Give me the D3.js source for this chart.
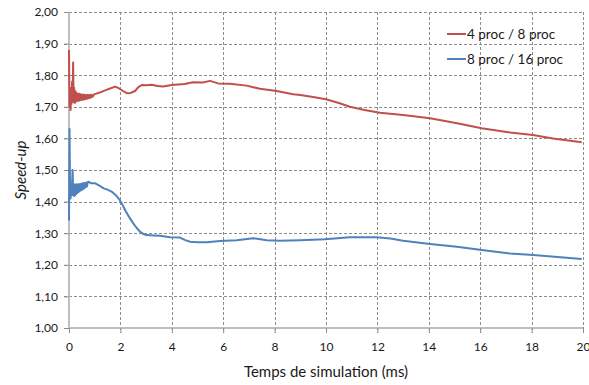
<!DOCTYPE html>
<html>
<head>
<meta charset="utf-8">
<script src="https://cdn.jsdelivr.net/npm/d3@7"></script>
<style>
  body { margin: 0; background: #fff; }
  svg text { font-family: Lato, "Open Sans", sans-serif; fill: #1a1a1a; }
</style>
</head>
<body>
<svg id="chart" width="589" height="385"></svg>
<script>
// values (time in ms, speed-up)
var seriesNames = ["4 proc / 8 proc", "8 proc / 16 proc"];
var seriesColors = ["#c0504d", "#4f81bd"];

var redTime = [0, 0.02, 0.04, 0.06, 0.08, 0.1, 0.12, 0.14, 0.16, 0.18, 0.2, 0.22, 0.24, 0.26, 0.28, 0.3,
  0.32, 0.34, 0.36, 0.38, 0.4, 0.43, 0.46, 0.49, 0.52, 0.55, 0.58, 0.61, 0.64, 0.67, 0.7, 0.73, 0.76,
  0.79, 0.82, 0.85, 0.88, 0.92, 0.96, 1.0, 1.2, 1.4, 1.6, 1.8, 1.95, 2.1, 2.25, 2.4, 2.57, 2.7, 2.83,
  3.0, 3.22, 3.45, 3.66, 4.0, 4.5, 4.82, 5.2, 5.49, 5.8, 6.26, 6.91, 7.43, 8.08, 8.72, 9.0, 9.5, 10.0,
  10.5, 10.93, 11.5, 12.1, 13.0, 14.05, 15.1, 16.06, 17.16, 18.05, 18.83, 19.95];
var redSpeedup = [1.88, 1.70, 1.76, 1.69, 1.75, 1.71, 1.78, 1.72, 1.84, 1.715, 1.76, 1.712, 1.75, 1.715, 1.745, 1.718,
  1.742, 1.72, 1.74, 1.719, 1.741, 1.72, 1.74, 1.722, 1.738, 1.722, 1.739, 1.724, 1.737, 1.725, 1.738, 1.726, 1.737,
  1.728, 1.738, 1.729, 1.738, 1.732, 1.738, 1.74, 1.745, 1.752, 1.758, 1.764, 1.758, 1.75, 1.743, 1.744, 1.75, 1.762, 1.769,
  1.768, 1.77, 1.766, 1.764, 1.769, 1.772, 1.778, 1.777, 1.782, 1.774, 1.773, 1.767, 1.757, 1.75, 1.74, 1.737, 1.731, 1.724,
  1.712, 1.70, 1.69, 1.681, 1.674, 1.664, 1.648, 1.632, 1.619, 1.611, 1.600, 1.588];

var blueTime = [0, 0.02, 0.04, 0.06, 0.08, 0.1, 0.12, 0.14, 0.16, 0.18, 0.2, 0.22, 0.24, 0.26, 0.28, 0.3,
  0.32, 0.34, 0.36, 0.38, 0.4, 0.43, 0.46, 0.49, 0.52, 0.55, 0.58, 0.61, 0.64, 0.67, 0.7, 0.73, 0.77,
  0.85, 1.02, 1.2, 1.35, 1.5, 1.67, 1.8, 1.93, 2.05, 2.19, 2.35, 2.5, 2.62, 2.76,
  2.9, 3.02, 3.3, 3.54, 3.93, 4.32, 4.5, 4.71, 5.0, 5.36, 5.88, 6.53, 7.17, 7.69, 8.21, 9.0, 9.96, 10.93,
  11.97, 12.5, 13.0, 14.05, 15.09, 16.06, 17.16, 18.07, 19.95];
var blueSpeedup = [1.34, 1.63, 1.45, 1.41, 1.44, 1.42, 1.46, 1.50, 1.42, 1.455, 1.418, 1.455, 1.42, 1.452, 1.424, 1.455,
  1.427, 1.453, 1.43, 1.455, 1.432, 1.456, 1.435, 1.457, 1.438, 1.458, 1.441, 1.459, 1.445, 1.46, 1.448, 1.462, 1.463,
  1.458, 1.458, 1.45, 1.442, 1.438, 1.431, 1.422, 1.41, 1.395, 1.372, 1.35, 1.331, 1.318, 1.305,
  1.297, 1.294, 1.293, 1.292, 1.287, 1.286, 1.279, 1.273, 1.271, 1.271, 1.275, 1.278, 1.284, 1.278, 1.276, 1.278, 1.281, 1.287,
  1.287, 1.283, 1.276, 1.266, 1.257, 1.247, 1.236, 1.231, 1.218];

var xTicks = [0, 2, 4, 6, 8, 10, 12, 14, 16, 18, 20];
var yTicks = [1.0, 1.1, 1.2, 1.3, 1.4, 1.5, 1.6, 1.7, 1.8, 1.9, 2.0];

var svg = d3.select("#chart");
var plotLeft = 69, plotRight = 583, plotTop = 12, plotBottom = 328;

var x = d3.scaleLinear().domain([0, 20]).range([plotLeft, plotRight]);
var y = d3.scaleLinear().domain([1, 2]).range([plotBottom, plotTop]);

var fr = d3.formatLocale({decimal: ",", thousands: ".", grouping: [3], currency: ["", " €"]});
var fmt = fr.format(".2f");

// grid
var grid = svg.append("g");
grid.selectAll(".hg").data(yTicks.slice(1)).enter().append("line")
  .attr("x1", plotLeft - 5).attr("x2", plotRight)
  .attr("y1", function(d){ return Math.round(y(d)) + 0.5; })
  .attr("y2", function(d){ return Math.round(y(d)) + 0.5; })
  .attr("stroke", "#8c8c8c").attr("stroke-dasharray", "3,2");
grid.selectAll(".vg").data(xTicks.slice(1)).enter().append("line")
  .attr("x1", function(d){ return Math.round(x(d)) + 0.5; })
  .attr("x2", function(d){ return Math.round(x(d)) + 0.5; })
  .attr("y1", plotTop).attr("y2", plotBottom + 5)
  .attr("stroke", "#8c8c8c").attr("stroke-dasharray", "3,2");

// axes
var yAxis = svg.append("g").attr("transform", "translate(" + plotLeft + ",0)")
  .call(d3.axisLeft(y).tickValues(yTicks).tickFormat(fmt).tickSize(5).tickPadding(6));
var xAxis = svg.append("g").attr("transform", "translate(0," + plotBottom + ")")
  .call(d3.axisBottom(x).tickValues(xTicks).tickFormat(d3.format("d")).tickSize(5).tickPadding(9));
[yAxis, xAxis].forEach(function(a){
  a.select(".domain").attr("stroke", "#bfbfbf").attr("stroke-width", 2);
  a.selectAll(".tick line").attr("stroke", "#8c8c8c");
  a.selectAll(".tick text").style("font-size", "12px").attr("fill", "#1a1a1a");
});
xAxis.select(".domain").attr("d", "M" + plotLeft + ",0H" + plotRight);
yAxis.select(".domain").attr("d", "M0," + plotTop + "V" + plotBottom);

// lines
var data = [
  redTime.map(function(t, i){ return [t, redSpeedup[i]]; }),
  blueTime.map(function(t, i){ return [t, blueSpeedup[i]]; })
];
var line = d3.line().x(function(d){ return x(d[0]); }).y(function(d){ return y(d[1]); });
svg.selectAll(".serie").data(data).enter().append("path")
  .attr("d", line)
  .attr("fill", "none")
  .attr("stroke", function(d, i){ return seriesColors[i]; })
  .attr("stroke-width", 2)
  .attr("stroke-linejoin", "round");

// titles
svg.append("text").attr("x", (plotLeft + plotRight) / 2).attr("y", 377)
  .attr("text-anchor", "middle").style("font-size", "15px")
  .text("Temps de simulation (ms)");
svg.append("text").attr("transform", "translate(26," + (plotTop + plotBottom) / 2 + ") rotate(-90)")
  .attr("text-anchor", "middle").style("font-size", "15px").style("font-style", "italic")
  .text("Speed-up");

// legend
var legend = svg.selectAll(".leg").data(seriesNames).enter().append("g")
  .attr("transform", function(d, i){ return "translate(447," + (34 + i * 25) + ")"; });
legend.append("line").attr("x1", 0).attr("x2", 19)
  .attr("stroke", function(d, i){ return seriesColors[i]; }).attr("stroke-width", 2);
legend.append("text").attr("x", 20).attr("y", 5)
  .style("font-size", "13.5px").text(function(d){ return d; });
</script>
</body>
</html>
